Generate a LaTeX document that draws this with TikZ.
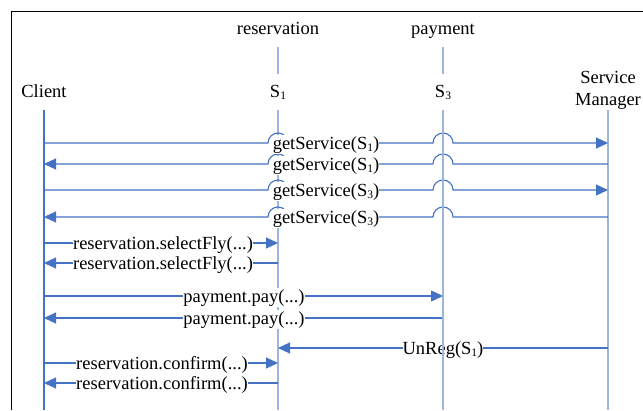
\documentclass[tikz,border=0pt]{standalone}
\usepackage{fontspec}
\setmainfont{Liberation Serif}
\usetikzlibrary{arrows.meta,calc}
\definecolor{arr}{HTML}{4472C4}
\definecolor{life}{HTML}{9BB7E0}
\newcommand{\lsub}[1]{\raisebox{-0.35ex}{\fontsize{11.5}{12}\selectfont #1}}
\begin{document}
\begin{tikzpicture}[x=1pt,y=-1pt, font=\fontsize{18.5}{20}\selectfont,
  msg/.style={draw=arr, line width=1.1pt, -{Triangle[length=12pt,width=11pt]}},
  lifeline/.style={draw=life, line width=1.5pt},
  clientline/.style={draw=arr, line width=1.3pt},
  lbl/.style={fill=white, inner xsep=0pt, inner ysep=1.5pt, anchor=base},
  hdr/.style={anchor=base, inner sep=0pt}]
\useasboundingbox (0,0) rectangle (643,410);
\draw[line width=0.9pt] (11,410) -- (11,11) -- (643,11);

% headers
\node[hdr] (resv) at (278,34) {reservation};
\node[hdr] (pay) at (443,34) {payment};
\node[hdr] (client) at (44,97) {Client};
\node[hdr] (s1) at (278,97) {S\lsub{1}};
\node[hdr] (s3) at (443,97) {S\lsub{3}};
\node[hdr] (smA) at (608,83) {Service};
\node[hdr] (sm) at (608,105) {Manager};

% lifeline ends
\coordinate (cT) at (44,110);
\coordinate (cB) at (44,410);
\coordinate (s1T) at (278,110);
\coordinate (s1B) at (278,410);
\coordinate (s3T) at (443,110);
\coordinate (s3B) at (443,410);
\coordinate (smT) at (608,110);
\coordinate (smB) at (608,410);

\draw[lifeline] ([yshift=-13pt]resv.base) -- ([yshift=11pt]s1.north);
\draw[clientline] (cT) -- (cB);
\draw[lifeline] (s1T) -- (s1B);
\draw[lifeline] (smT) -- (smB);

% message rows
\coordinate (c1) at (44,143);  \coordinate (m1) at (608,143);
\coordinate (c2) at (44,164);  \coordinate (m2) at (608,164);
\coordinate (c3) at (44,190);  \coordinate (m3) at (608,190);
\coordinate (c4) at (44,217);  \coordinate (m4) at (608,217);
\coordinate (c5) at (44,243);
\coordinate (c6) at (44,263);
\coordinate (c7) at (44,296);
\coordinate (c8) at (44,318);
\coordinate (m9) at (608,348);
\coordinate (c10) at (44,363);
\coordinate (c11) at (44,383);

\draw[msg] (c1) -- ($(c1-|s1)+(-10,0)$) arc[start angle=180,end angle=0,radius=10pt]
  -- ($(c1-|s3)+(-10,0)$) arc[start angle=180,end angle=0,radius=10pt] -- (m1);
\draw[msg] (m2) -- ($(m2-|s3)+(10,0)$) arc[start angle=0,end angle=180,radius=10pt]
  -- ($(m2-|s1)+(10,0)$) arc[start angle=0,end angle=180,radius=10pt] -- (c2);
\draw[msg] (c3) -- ($(c3-|s1)+(-10,0)$) arc[start angle=180,end angle=0,radius=10pt]
  -- ($(c3-|s3)+(-10,0)$) arc[start angle=180,end angle=0,radius=10pt] -- (m3);
\draw[msg] (m4) -- ($(m4-|s3)+(10,0)$) arc[start angle=0,end angle=180,radius=10pt]
  -- ($(m4-|s1)+(10,0)$) arc[start angle=0,end angle=180,radius=10pt] -- (c4);
\draw[msg] (c5) -- (c5-|s1);
\draw[msg] (c6-|s1) -- (c6);
\draw[msg] (c7) -- (c7-|s3);
\draw[msg] (c8-|s3) -- (c8);
\draw[msg] (m9) -- (m9-|s1);
\draw[msg] (c10) -- (c10-|s1);
\draw[msg] (c11-|s1) -- (c11);

% labels
\node[lbl] (l1) at (326,149) {getService(S\lsub{1})};
\node[lbl] (l2) at (326,170) {getService(S\lsub{1})};
\node[lbl] (l3) at (326,196) {getService(S\lsub{3})};
\node[lbl] (l4) at (326,223) {getService(S\lsub{3})};
\node[lbl] (l5) at (163,249) {reservation.selectFly(...)};
\node[lbl] (l6) at (163,269) {reservation.selectFly(...)};
\node[lbl] (l7) at (244,302) {payment.pay(...)};
\node[lbl] (l8) at (244,324) {payment.pay(...)};
\node[lbl] (l9) at (443,354) {UnReg(S\lsub{1})};
\node[lbl] (l10) at (162,369) {reservation.confirm(...)};
\node[lbl] (l11) at (162,389) {reservation.confirm(...)};

% S3 lifeline on top
\draw[lifeline] ([yshift=-13pt]pay.base) -- ([yshift=11pt]s3.north);
\draw[lifeline] (s3T) -- (s3B);
\end{tikzpicture}
\end{document}
